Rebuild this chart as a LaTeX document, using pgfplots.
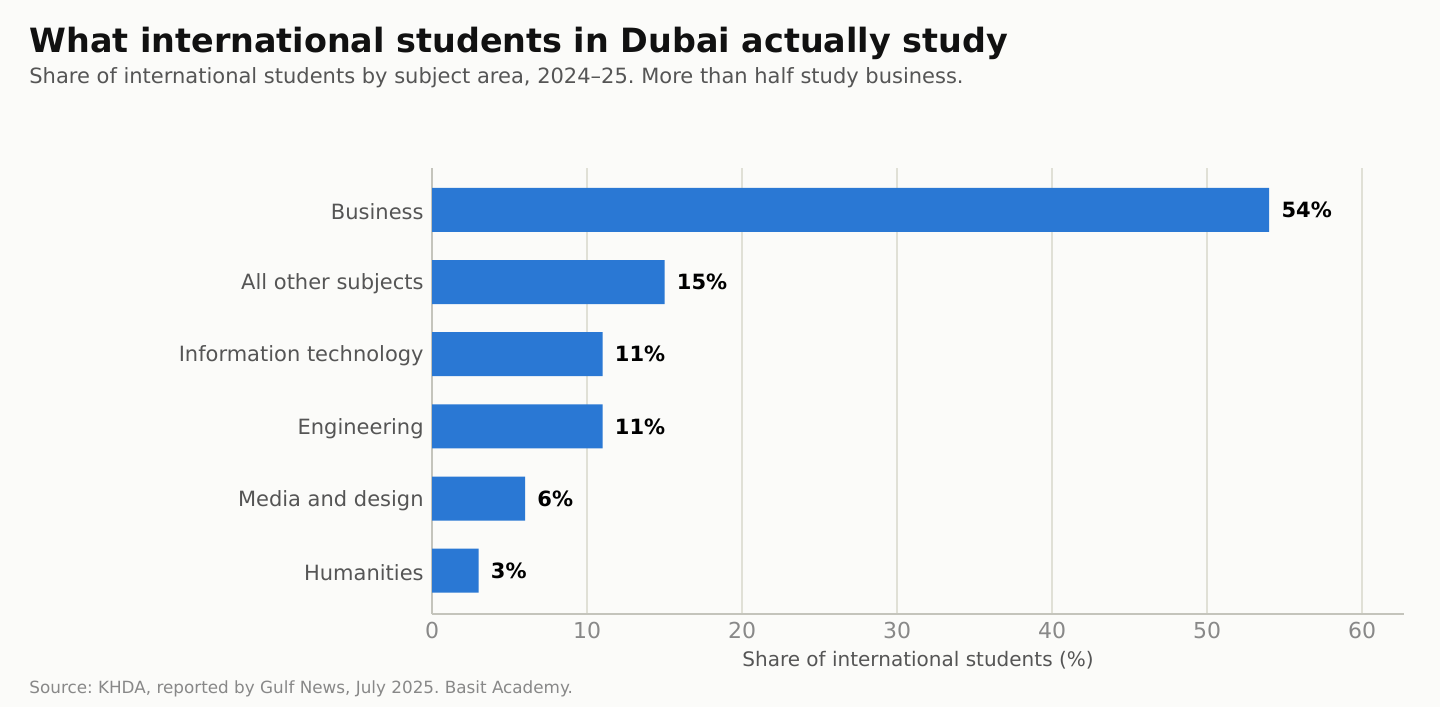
\documentclass[border=0pt]{standalone}
\usepackage{fontspec}
\setmainfont{DejaVu Sans}
\usepackage{pgfplots}
\pgfplotsset{compat=1.18}
\frenchspacing
\definecolor{bgcol}{HTML}{FBFBF9}
\definecolor{barcol}{HTML}{2A78D4}
\definecolor{titlecol}{HTML}{111111}
\definecolor{subcol}{HTML}{555555}
\definecolor{tickcol}{HTML}{888888}
\definecolor{gridcol}{HTML}{E0E0D6}
\definecolor{spinecol}{HTML}{C4C4BC}

\begin{document}
\begin{tikzpicture}
\fill[bgcol] (0pt,0pt) rectangle (720pt,-353.5pt);
\node[anchor=base west, inner sep=0pt, text=titlecol, font=\bfseries\fontsize{16.7}{20}\selectfont]
  at (14.5pt,-26pt) {What international students in Dubai actually study};
\node[anchor=base west, inner sep=0pt, text=subcol, font=\fontsize{10.5}{13}\selectfont]
  at (14.5pt,-41.5pt) {Share of international students by subject area, 2024–25. More than half study business.};
\node[anchor=base west, inner sep=0pt, text=tickcol, font=\fontsize{8.4}{10}\selectfont]
  at (14.5pt,-346.5pt) {Source: KHDA, reported by Gulf News, July 2025. Basit Academy.};

\begin{axis}[
    at={(216pt,-307pt)}, anchor=south west,
    scale only axis,
    width=486pt, height=223pt,
    xbar, bar width=22pt,
    xmin=0, xmax=62.7,
    ymin=-0.6, ymax=5.58,
    xtick={0,10,...,60},
    ytick={0,...,5},
    yticklabels={Humanities,Media and design,Engineering,Information technology,All other subjects,Business},
    axis x line*=bottom, axis y line*=left,
    axis line style={spinecol, line width=0.7pt, -},
    major tick length=0pt,
    xmajorgrids,
    grid style={gridcol, line width=0.7pt},
    /pgf/number format/assume math mode=true,
    xticklabel style={text=tickcol, font=\fontsize{11}{13}\selectfont, inner sep=0pt, anchor=north, yshift=-4pt},
    yticklabel style={text=subcol, font=\fontsize{10.5}{13}\selectfont, inner sep=0pt, anchor=east, xshift=-4pt, yshift=-1pt},
    xlabel={Share of international students (\%)},
    xlabel style={at={(axis description cs:0.5,0)}, anchor=base, inner sep=0pt, yshift=-26pt,
        text=subcol, font=\fontsize{10}{12}\selectfont},
    point meta=x,
    nodes near coords={\pgfmathprintnumber{\pgfplotspointmeta}\%},
    nodes near coords style={anchor=west, inner sep=0pt, xshift=6pt, text=black,
        font=\bfseries\fontsize{10.5}{13}\selectfont,
        /pgf/number format/assume math mode=true},
    clip=false,
]
\addplot[fill=barcol, draw=none] coordinates {
    (3,0) (6,1) (11,2) (11,3) (15,4) (54,5)
};
\end{axis}
\end{tikzpicture}
\end{document}
